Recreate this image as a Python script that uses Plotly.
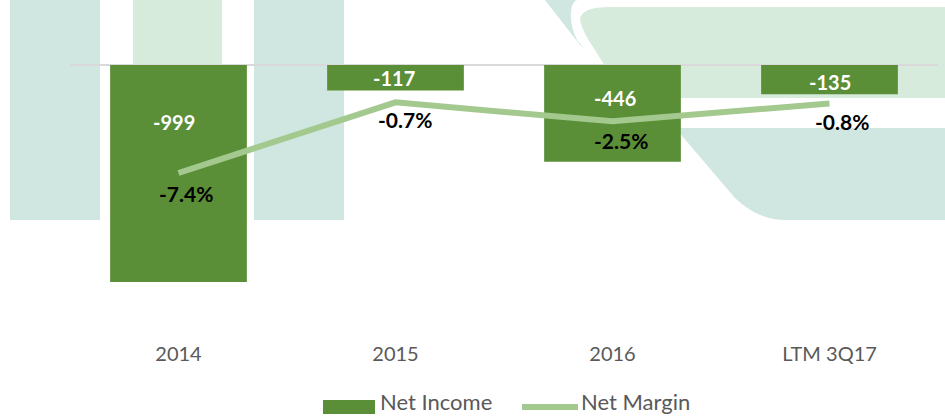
import plotly.graph_objects as go

# ---------------- data ----------------
categories = ["2014", "2015", "2016", "LTM 3Q17"]
net_income = [-999, -117, -446, -135]
net_margin = [-7.4, -0.7, -2.5, -0.8]          # percent
income_labels = ["-999", "-117", "-446", "-135"]
margin_labels = ["-7.4%", "-0.7%", "-2.5%", "-0.8%"]
series_names = ["Net Income", "Net Margin"]

# ---------------- styling / layout ----------------
W, H = 945, 416
ML, MR, MT, MB = 70, 7, 30, 76
PW, PH = W - ML - MR, H - MT - MB

BAR_COLOR = "#5a8e37"
LINE_COLOR = "#a3c98f"
TEAL = "#d0e7e1"
LGREEN = "#d6ebdc"
FONT = "Lato"

# label nudges (pixels)
inc_yshift = [-57, -13, -33, -17]
inc_xshift = [-5, -2, 2, 0]
mar_yshift = [-20, -17, -19, -18]
mar_xshift = [7, 9, 8, 12]


def px(x):
    return (x - ML) / PW


def py(y):
    return (H - MB - y) / PH


def P(x, y):
    return f"{px(x):.4f},{py(y):.4f}"


fig = go.Figure()

fig.add_trace(go.Bar(
    x=categories, y=net_income, name=series_names[0],
    marker=dict(color=BAR_COLOR, line=dict(width=0)),
    width=0.63, yaxis="y", showlegend=False, hoverinfo="skip",
))
fig.add_trace(go.Scatter(
    x=categories, y=net_margin, name=series_names[1], mode="lines",
    line=dict(color=LINE_COLOR, width=6), yaxis="y2", showlegend=False,
    hoverinfo="skip",
))

annotations = []
for i, c in enumerate(categories):
    annotations.append(dict(
        x=i, y=0, xref="x", yref="y", text=income_labels[i], showarrow=False,
        yanchor="middle", xanchor="center", yshift=inc_yshift[i], xshift=inc_xshift[i],
        font=dict(family=FONT, size=20, color="white", weight=700),
    ))
    annotations.append(dict(
        x=i, y=net_margin[i], xref="x", yref="y2", text=margin_labels[i], showarrow=False,
        yanchor="middle", xanchor="center", yshift=mar_yshift[i], xshift=mar_xshift[i],
        font=dict(family=FONT, size=21, color="black", weight=700),
    ))

# custom legend
annotations.append(dict(x=px(379), y=py(416), xref="paper", yref="paper", text=series_names[0],
                        showarrow=False, xanchor="left", yanchor="bottom", borderpad=0,
                        font=dict(family=FONT, size=22, color="#595959")))
annotations.append(dict(x=px(580), y=py(416), xref="paper", yref="paper", text=series_names[1],
                        showarrow=False, xanchor="left", yanchor="bottom", borderpad=0,
                        font=dict(family=FONT, size=22, color="#595959")))

shapes = []
# background watermark
for (x0, x1, col) in [(10, 100, TEAL), (133, 222, LGREEN), (254, 344, TEAL)]:
    shapes.append(dict(type="rect", xref="paper", yref="paper", x0=px(x0), x1=px(x1),
                       y0=py(220), y1=py(0), fillcolor=col, line=dict(width=0), layer="below"))
teal_path = (f"M{P(545,0)} L{P(950,0)} L{P(950,220)} L{P(785,220)} Q{P(758,220)} {P(735,198)} "
             f"L{P(677,130)} L{P(580,45)} Z")
shapes.append(dict(type="path", xref="paper", yref="paper", path=teal_path,
                   fillcolor=TEAL, line=dict(width=0), layer="below"))
white_path = (f"M{P(578,0)} L{P(950,0)} L{P(950,128)} L{P(658,128)} L{P(596,63)} L{P(577,40)} "
              f"Q{P(570,26)} {P(571,12)} Q{P(572,0)} {P(578,0)} Z")
shapes.append(dict(type="path", xref="paper", yref="paper", path=white_path,
                   fillcolor="white", line=dict(width=0), layer="below"))
green_path = (f"M{P(610,7)} L{P(950,7)} L{P(950,98)} L{P(630,98)} L{P(603,63)} L{P(595,50)} "
              f"Q{P(580,28)} {P(580,18)} Q{P(583,7)} {P(610,7)} Z")
shapes.append(dict(type="path", xref="paper", yref="paper", path=green_path,
                   fillcolor=LGREEN, line=dict(width=0), layer="below"))

# legend symbols
shapes.append(dict(type="rect", xref="paper", yref="paper", x0=px(323), x1=px(375),
                   y0=py(414), y1=py(400), fillcolor=BAR_COLOR, line=dict(width=0)))
shapes.append(dict(type="line", xref="paper", yref="paper", x0=px(522), x1=px(578),
                   y0=py(407), y1=py(407), line=dict(color=LINE_COLOR, width=6)))

# axis ranges: zero of bars at y=65px, 0.2172 px per unit; margin zero at 95px, 10.54 px per %
inc_scale = 0.2172
y1_range = [-(H - MB - 65) / inc_scale, (65 - MT) / inc_scale]
mar_scale = 10.54
y2_range = [-(H - MB - 95) / mar_scale, (95 - MT) / mar_scale]

fig.update_layout(
    width=W, height=H,
    margin=dict(l=ML, r=MR, t=MT, b=MB, pad=0),
    paper_bgcolor="white", plot_bgcolor="rgba(0,0,0,0)",
    showlegend=False,
    xaxis=dict(type="category", range=[-0.5, 3.5], showgrid=False, showline=False,
               ticks="", tickfont=dict(family=FONT, size=20, color="#595959"), zeroline=False),
    yaxis=dict(range=y1_range, showgrid=False, showticklabels=False, zeroline=True,
               zerolinecolor="#d9d9d9", zerolinewidth=2, showline=False),
    yaxis2=dict(range=y2_range, overlaying="y", side="right", showgrid=False,
                showticklabels=False, zeroline=False, showline=False),
    annotations=annotations,
    shapes=shapes,
    bargap=0.37,
)

fig.write_html(
    "out.html",
    config={"displayModeBar": False},
    post_script="document.body.style.margin='0';document.body.style.overflow='hidden';",
)
